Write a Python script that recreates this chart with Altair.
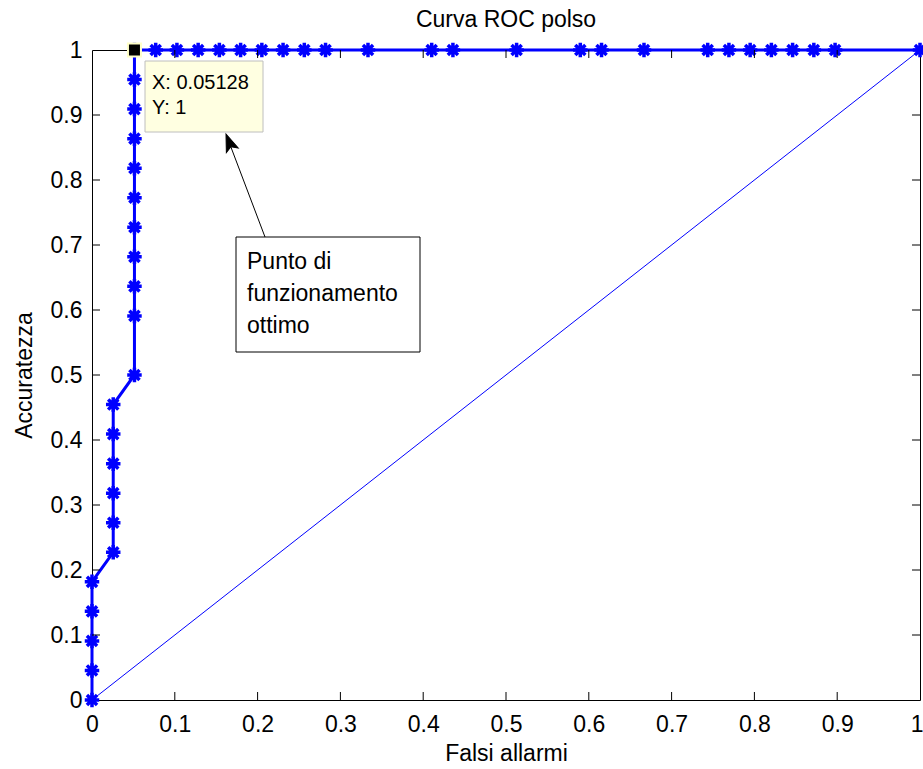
import altair as alt
import pandas as pd

# ROC operating points for the pulse detector, in threshold order
fpr = [0, 0, 0, 0, 0,
       0.02564, 0.02564, 0.02564, 0.02564, 0.02564, 0.02564,
       0.05128, 0.05128, 0.05128, 0.05128, 0.05128, 0.05128, 0.05128, 0.05128,
       0.05128, 0.05128, 0.05128,
       0.07692, 0.10256, 0.12821, 0.15385, 0.17949, 0.20513, 0.23077, 0.25641, 0.28205,
       0.33333, 0.41026, 0.43590, 0.51282, 0.58974, 0.61538, 0.66667,
       0.74359, 0.76923, 0.79487, 0.82051, 0.84615, 0.87179, 0.89744, 1.0]
tpr = [0, 0.04545, 0.09091, 0.13636, 0.18182,
       0.22727, 0.27273, 0.31818, 0.36364, 0.40909, 0.45455,
       0.5, 0.59091, 0.63636, 0.68182, 0.72727, 0.77273, 0.81818, 0.86364,
       0.90909, 0.95455, 1.0,
       1.0, 1.0, 1.0, 1.0, 1.0, 1.0, 1.0, 1.0, 1.0,
       1.0, 1.0, 1.0, 1.0, 1.0, 1.0, 1.0,
       1.0, 1.0, 1.0, 1.0, 1.0, 1.0, 1.0, 1.0]

# chance line
chance_x = [0, 1]
chance_y = [0, 1]

# highlighted optimal operating point
tip_x = 0.05128
tip_y = 1

tick_values = [0, 0.1, 0.2, 0.3, 0.4, 0.5, 0.6, 0.7, 0.8, 0.9, 1]

TITLE = "Curva ROC polso"
FONT = "Liberation Sans"
BLUE = "#0000FF"
W, H = 828, 650

roc = pd.DataFrame({"fpr": fpr, "tpr": tpr, "i": range(len(fpr))})
chance = pd.DataFrame({"fpr": chance_x, "tpr": chance_y})
tip = pd.DataFrame({"fpr": [tip_x], "tpr": [tip_y]})
ticks = pd.DataFrame({"v": tick_values[1:-1]})
one = pd.DataFrame({"k": [0]})

xscale = alt.Scale(domain=[0, 1], nice=False, zero=False)
yscale = alt.Scale(domain=[0, 1], nice=False, zero=False)

x_axis = alt.Axis(values=tick_values, format="~g", title="Falsi allarmi",
                  domain=False, ticks=False, tickSize=0, grid=False,
                  labelFlush=False, labelOverlap=False, labelPadding=13,
                  labelAlign=alt.expr("datum.value >= 1 ? 'right' : 'center'"),
                  labelOffset=alt.expr("datum.value >= 1 ? 3 : 0"),
                  titlePadding=6)
y_axis = alt.Axis(values=tick_values, format="~g", title="Accuratezza",
                  domain=False, ticks=False, tickSize=0, grid=False,
                  labelFlush=False, labelOverlap=False, labelPadding=10,
                  titlePadding=14)

ASTERISK = "M-1,0L1,0M0,-1L0,1M-0.7,-0.7L0.7,0.7M-0.7,0.7L0.7,-0.7"
ARROW_HEAD = "M0,0L0.65,1.8L0,1.4L-0.65,1.8Z"

diag = alt.Chart(chance).mark_line(color=BLUE, strokeWidth=1).encode(
    x=alt.X("fpr:Q", scale=xscale, axis=x_axis),
    y=alt.Y("tpr:Q", scale=yscale, axis=y_axis),
)

curve = alt.Chart(roc).mark_line(color=BLUE, strokeWidth=3).encode(
    x=alt.X("fpr:Q", scale=xscale),
    y=alt.Y("tpr:Q", scale=yscale),
    order="i:Q",
)

markers = alt.Chart(roc).mark_point(
    shape=ASTERISK, filled=False, stroke=BLUE, strokeWidth=3.5, size=210, opacity=1
).encode(
    x=alt.X("fpr:Q", scale=xscale),
    y=alt.Y("tpr:Q", scale=yscale),
)

# inward tick marks on all four sides of the box
tick_b = alt.Chart(ticks).mark_rule(color="black", strokeWidth=1).encode(
    x=alt.X("v:Q", scale=xscale), y=alt.value(H), y2=alt.value(H - 8))
tick_t = alt.Chart(ticks).mark_rule(color="black", strokeWidth=1).encode(
    x=alt.X("v:Q", scale=xscale), y=alt.value(0), y2=alt.value(8))
tick_l = alt.Chart(ticks).mark_rule(color="black", strokeWidth=1).encode(
    y=alt.Y("v:Q", scale=yscale), x=alt.value(0), x2=alt.value(8))
tick_r = alt.Chart(ticks).mark_rule(color="black", strokeWidth=1).encode(
    y=alt.Y("v:Q", scale=yscale), x=alt.value(W), x2=alt.value(W - 8))

# chart title, centred over the plot box
title = alt.Chart(one).mark_text(
    text=TITLE, align="center", baseline="alphabetic",
    font=FONT, fontSize=23, color="black"
).encode(x=alt.value(W / 2), y=alt.value(-23))

# data tip on the optimal point
tip_marker = alt.Chart(tip).mark_point(
    shape="square", filled=True, fill="black", stroke="#FFFFC8",
    strokeWidth=2, size=169, opacity=1
).encode(
    x=alt.X("fpr:Q", scale=xscale),
    y=alt.Y("tpr:Q", scale=yscale),
)

tip_box = alt.Chart(one).mark_rect(fill="#FFFFE1", stroke="#BEBEBE", strokeWidth=1).encode(
    x=alt.value(53), x2=alt.value(171), y=alt.value(11), y2=alt.value(82))

tip_text = alt.Chart(one).mark_text(
    text=[f"X: {tip_x:g}", f"Y: {tip_y:g}"], align="left", baseline="top",
    font=FONT, fontSize=20, lineHeight=25, color="black"
).encode(x=alt.value(60), y=alt.value(23))

# annotation with arrow
note_box = alt.Chart(one).mark_rect(fill="white", stroke="black", strokeWidth=1).encode(
    x=alt.value(144), x2=alt.value(328), y=alt.value(187), y2=alt.value(302))

note_text = alt.Chart(one).mark_text(
    text=["Punto di", "funzionamento", "ottimo"], align="left", baseline="top",
    font=FONT, fontSize=23, lineHeight=32, color="black"
).encode(x=alt.value(155), y=alt.value(201))

arrow_line = alt.Chart(one).mark_rule(color="black", strokeWidth=1).encode(
    x=alt.value(173), y=alt.value(187), x2=alt.value(137), y2=alt.value(92))

arrow_head = alt.Chart(one).mark_point(
    shape=ARROW_HEAD, filled=True, fill="black", stroke="black", strokeWidth=1,
    size=380, angle=339, opacity=1
).encode(x=alt.value(134), y=alt.value(84))

chart = alt.layer(
    diag, curve, markers, tick_b, tick_t, tick_l, tick_r, title,
    tip_box, tip_text, tip_marker, note_box, note_text, arrow_line, arrow_head,
).properties(
    width=W, height=H,
    autosize="none",
    padding={"left": 92, "top": 50, "right": 3, "bottom": 69},
    background="white",
).configure_view(
    stroke="black", strokeWidth=1
).configure_axis(
    labelFont=FONT, labelFontSize=23, labelColor="black",
    titleFont=FONT, titleFontSize=23, titleColor="black", titleFontWeight="normal",
)

chart.save("out.html", embed_options={"renderer": "svg", "actions": False})
